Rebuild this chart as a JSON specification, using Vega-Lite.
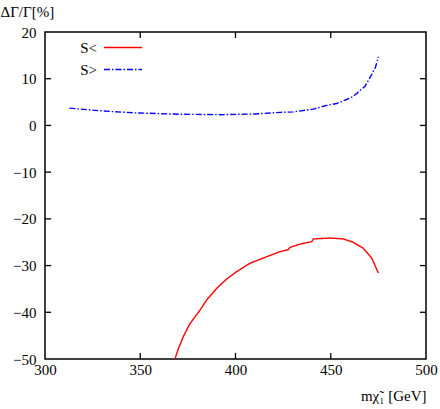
{
  "$schema": "https://vega.github.io/schema/vega-lite/v6.json",
  "width": 381,
  "height": 327,
  "autosize": "none",
  "padding": {"left": 45, "top": 32, "right": 14, "bottom": 50},
  "background": "white",
  "config": {
    "font": "Liberation Serif",
    "view": {"stroke": "black", "strokeWidth": 1.5},
    "axis": {
      "labelFont": "Liberation Serif",
      "titleFont": "Liberation Serif",
      "labelFontSize": 15,
      "titleFontSize": 15,
      "titleFontWeight": "normal",
      "labelColor": "black",
      "titleColor": "black",
      "grid": false,
      "domain": false,
      "ticks": false
    },
    "legend": {
      "labelFont": "Liberation Serif",
      "labelFontSize": 15,
      "labelColor": "black"
    }
  },
  "datasets": {
    "curves": [
      {"m": 368.2, "v": -50, "s": "S<"},
      {"m": 370, "v": -47.8, "s": "S<"},
      {"m": 372.6, "v": -45.2, "s": "S<"},
      {"m": 376, "v": -42.5, "s": "S<"},
      {"m": 381.4, "v": -39.5, "s": "S<"},
      {"m": 385, "v": -37.3, "s": "S<"},
      {"m": 390.1, "v": -34.9, "s": "S<"},
      {"m": 395, "v": -33.0, "s": "S<"},
      {"m": 400.6, "v": -31.3, "s": "S<"},
      {"m": 407.6, "v": -29.5, "s": "S<"},
      {"m": 416.4, "v": -28.1, "s": "S<"},
      {"m": 423.4, "v": -27.0, "s": "S<"},
      {"m": 427.7, "v": -26.6, "s": "S<"},
      {"m": 428.6, "v": -26.1, "s": "S<"},
      {"m": 433.9, "v": -25.4, "s": "S<"},
      {"m": 440, "v": -24.9, "s": "S<"},
      {"m": 440.9, "v": -24.3, "s": "S<"},
      {"m": 449.6, "v": -24.1, "s": "S<"},
      {"m": 456.6, "v": -24.3, "s": "S<"},
      {"m": 461.8, "v": -25.0, "s": "S<"},
      {"m": 467.1, "v": -26.3, "s": "S<"},
      {"m": 471.5, "v": -28.4, "s": "S<"},
      {"m": 475, "v": -31.6, "s": "S<"},
      {"m": 312.8, "v": 3.7, "s": "S>"},
      {"m": 330, "v": 3.1, "s": "S>"},
      {"m": 346.5, "v": 2.7, "s": "S>"},
      {"m": 370, "v": 2.4, "s": "S>"},
      {"m": 391.9, "v": 2.3, "s": "S>"},
      {"m": 410, "v": 2.45, "s": "S>"},
      {"m": 423.4, "v": 2.8, "s": "S>"},
      {"m": 430.4, "v": 2.9, "s": "S>"},
      {"m": 440.9, "v": 3.5, "s": "S>"},
      {"m": 447.9, "v": 4.3, "s": "S>"},
      {"m": 453.1, "v": 4.7, "s": "S>"},
      {"m": 458, "v": 5.5, "s": "S>"},
      {"m": 461.8, "v": 6.2, "s": "S>"},
      {"m": 465.4, "v": 7.5, "s": "S>"},
      {"m": 468, "v": 8.4, "s": "S>"},
      {"m": 471.5, "v": 10.9, "s": "S>"},
      {"m": 473.5, "v": 12.5, "s": "S>"},
      {"m": 475, "v": 14.7, "s": "S>"}
    ],
    "xticks": [{"t": 350}, {"t": 400}, {"t": 450}],
    "yticks": [{"t": -40}, {"t": -30}, {"t": -20}, {"t": -10}, {"t": 0}, {"t": 10}]
  },
  "layer": [
    {
      "mark": {"type": "rule", "color": "#b0b0b0", "strokeWidth": 1.5},
      "encoding": {
        "y": {"datum": 0, "type": "quantitative", "axis": null}
      }
    },
    {
      "data": {"name": "curves"},
      "mark": {"type": "line", "strokeWidth": 1.4, "clip": true},
      "encoding": {
        "x": {
          "field": "m",
          "type": "quantitative",
          "scale": {"domain": [300, 500], "nice": false, "zero": false},
          "axis": {
            "orient": "bottom",
            "values": [300, 350, 400, 450, 500],
            "title": "mχ̃₁ [GeV]",
            "titleAlign": "right",
            "titleAnchor": "end",
            "titleX": 381,
            "titleY": 41,
            "titleBaseline": "alphabetic",
            "labelPadding": 3,
            "labelFlush": false
          }
        },
        "y": {
          "field": "v",
          "type": "quantitative",
          "scale": {"domain": [-50, 20], "nice": false, "zero": false},
          "axis": {
            "orient": "left",
            "values": [-50, -40, -30, -20, -10, 0, 10, 20],
            "format": "d",
            "title": "ΔΓ/Γ[%]",
            "titleAngle": 0,
            "titleAlign": "left",
            "titleX": -45,
            "titleY": -16,
            "titleBaseline": "alphabetic",
            "labelPadding": 9
          }
        },
        "color": {
          "field": "s",
          "type": "nominal",
          "sort": ["S<", "S>"],
          "scale": {"domain": ["S<", "S>"], "range": ["#ff0000", "#0000ff"]},
          "legend": {
            "orient": "none",
            "legendX": 67.5,
            "legendY": 5,
            "title": null,
            "symbolType": "M-2,0H2",
            "symbolSize": 361,
            "symbolStrokeWidth": 1.4,
            "labelAlign": "right",
            "labelOffset": -36.5,
            "rowPadding": 3
          }
        },
        "strokeDash": {
          "field": "s",
          "type": "nominal",
          "sort": ["S<", "S>"],
          "scale": {"domain": ["S<", "S>"], "range": [[1, 0], [6, 2, 1.5, 2]]},
          "legend": null
        }
      }
    },
    {
      "data": {"name": "xticks"},
      "mark": {"type": "rule", "color": "black", "strokeWidth": 1.3},
      "encoding": {
        "x": {"field": "t", "type": "quantitative", "axis": null},
        "y": {"datum": -50, "type": "quantitative", "axis": null},
        "y2": {"datum": -48.7}
      }
    },
    {
      "data": {"name": "xticks"},
      "mark": {"type": "rule", "color": "black", "strokeWidth": 1.3},
      "encoding": {
        "x": {"field": "t", "type": "quantitative", "axis": null},
        "y": {"datum": 20, "type": "quantitative", "axis": null},
        "y2": {"datum": 18.7}
      }
    },
    {
      "data": {"name": "yticks"},
      "mark": {"type": "rule", "color": "black", "strokeWidth": 1.3},
      "encoding": {
        "y": {"field": "t", "type": "quantitative", "axis": null},
        "x": {"datum": 300, "type": "quantitative", "axis": null},
        "x2": {"datum": 303.2}
      }
    },
    {
      "data": {"name": "yticks"},
      "mark": {"type": "rule", "color": "black", "strokeWidth": 1.3},
      "encoding": {
        "y": {"field": "t", "type": "quantitative", "axis": null},
        "x": {"datum": 500, "type": "quantitative", "axis": null},
        "x2": {"datum": 496.8}
      }
    }
  ],
  "resolve": {"axis": {"x": "independent", "y": "independent"}}
}
